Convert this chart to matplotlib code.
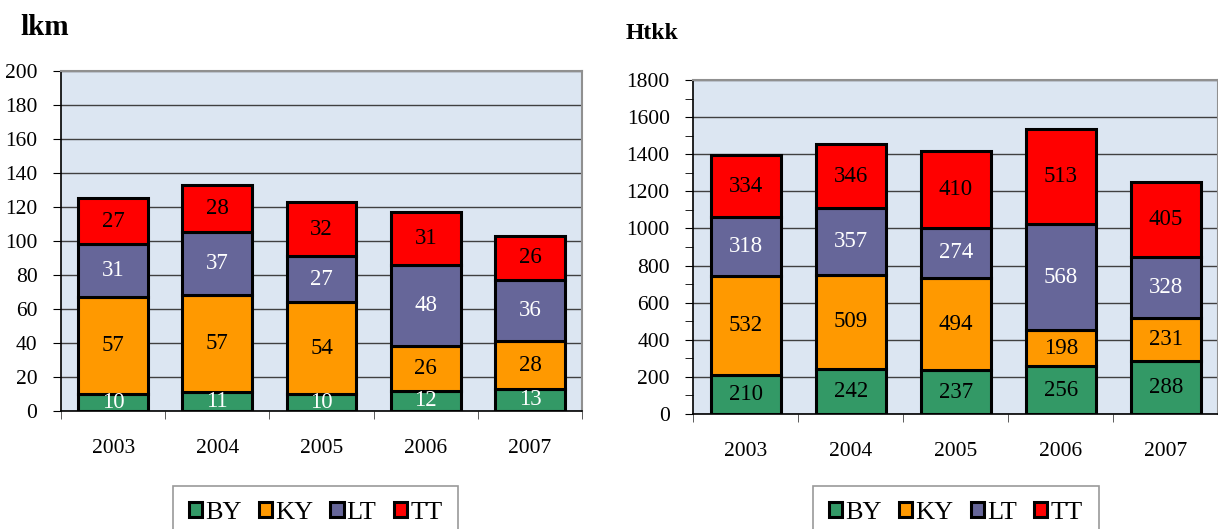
import numpy as np
import matplotlib
matplotlib.use("Agg")
import matplotlib.pyplot as plt
from matplotlib.patches import Patch
from matplotlib.ticker import MultipleLocator

plt.rcParams["font.family"] = ["Liberation Serif", "DejaVu Serif"]

years = ["2003", "2004", "2005", "2006", "2007"]
series = ["BY", "KY", "LT", "TT"]
colors = ["#339966", "#FF9900", "#666699", "#FF0000"]
label_colors_lkm = ["white", "black", "white", "black"]
label_colors_htkk = ["black", "black", "white", "black"]

# lkm
lkm_by = [10, 11, 10, 12, 13]
lkm_ky = [57, 57, 54, 26, 28]
lkm_lt = [31, 37, 27, 48, 36]
lkm_tt = [27, 28, 32, 31, 26]

# Htkk
htkk_by = [210, 242, 237, 256, 288]
htkk_ky = [532, 509, 494, 198, 231]
htkk_lt = [318, 357, 274, 568, 328]
htkk_tt = [334, 346, 410, 513, 405]

fig = plt.figure(figsize=(12.18, 5.29), dpi=100)
ax1 = fig.add_axes([0.0501, 0.2231, 0.4278, 0.6427])
ax2 = fig.add_axes([0.5693, 0.2174, 0.431, 0.6314])


def draw(ax, data, lcolors, ymax, step, minor=None):
    x = np.arange(len(years))
    ax.set_facecolor("#DCE6F2")
    ax.set_axisbelow(True)
    ax.grid(axis="y", color="#404040", lw=1)
    bottom = np.zeros(len(years))
    for vals, c, lc in zip(data, colors, lcolors):
        vals = np.array(vals, dtype=float)
        ax.bar(x, vals, 0.67, bottom=bottom, color=c, edgecolor="black", lw=2.2, zorder=3)
        for xi, b, v in zip(x, bottom, vals):
            ax.text(xi, b + v / 2, f"{v:.0f}", ha="center", va="center",
                    fontsize=16.5, color=lc, zorder=4)
        bottom += vals
    ax.set_xlim(-0.5, len(years) - 0.5)
    ax.set_ylim(0, ymax)
    ax.yaxis.set_major_locator(MultipleLocator(step))
    if minor:
        ax.yaxis.set_minor_locator(MultipleLocator(minor))
    ax.set_xticks(x)
    ax.set_xticklabels(years)
    ax.set_xticks(np.arange(-0.5, len(years)), minor=True)
    ax.tick_params(axis="x", which="major", length=0, pad=20, labelsize=15.5)
    ax.tick_params(axis="x", which="minor", length=6, direction="out", color="#404040")
    ax.tick_params(axis="y", which="both", direction="out", length=6, labelsize=15.5,
                   pad=11, color="black")
    for s in ["top", "right"]:
        ax.spines[s].set_color("#909090")
        ax.spines[s].set_linewidth(1.5)
    for s in ["left", "bottom"]:
        ax.spines[s].set_color("black")
        ax.spines[s].set_linewidth(1.2)


draw(ax1, [lkm_by, lkm_ky, lkm_lt, lkm_tt], label_colors_lkm, 200, 20)
draw(ax2, [htkk_by, htkk_ky, htkk_lt, htkk_tt], label_colors_htkk, 1800, 200, 100)

fig.text(0.017, 0.948, "lkm", fontsize=21, fontweight="bold", va="center")
fig.text(0.514, 0.937, "Htkk", fontsize=17, fontweight="bold", va="center")

handles = [Patch(facecolor=c, edgecolor="black", lw=2.2) for c in colors]
for cx in [(177 + 454) / 2 / 1218, (814 + 1098) / 2 / 1218]:
    leg = fig.legend(handles, series, loc="upper center", bbox_to_anchor=(cx, 1 - 486 / 529),
                     ncol=4, fontsize=19, frameon=True, fancybox=False,
                     handlelength=0.5, handleheight=0.5, handletextpad=0.12,
                     columnspacing=0.65, borderpad=0.6, borderaxespad=0,
                     edgecolor="#808080")
    leg.get_frame().set_linewidth(1.2)

fig.savefig("out.png", dpi=100)
